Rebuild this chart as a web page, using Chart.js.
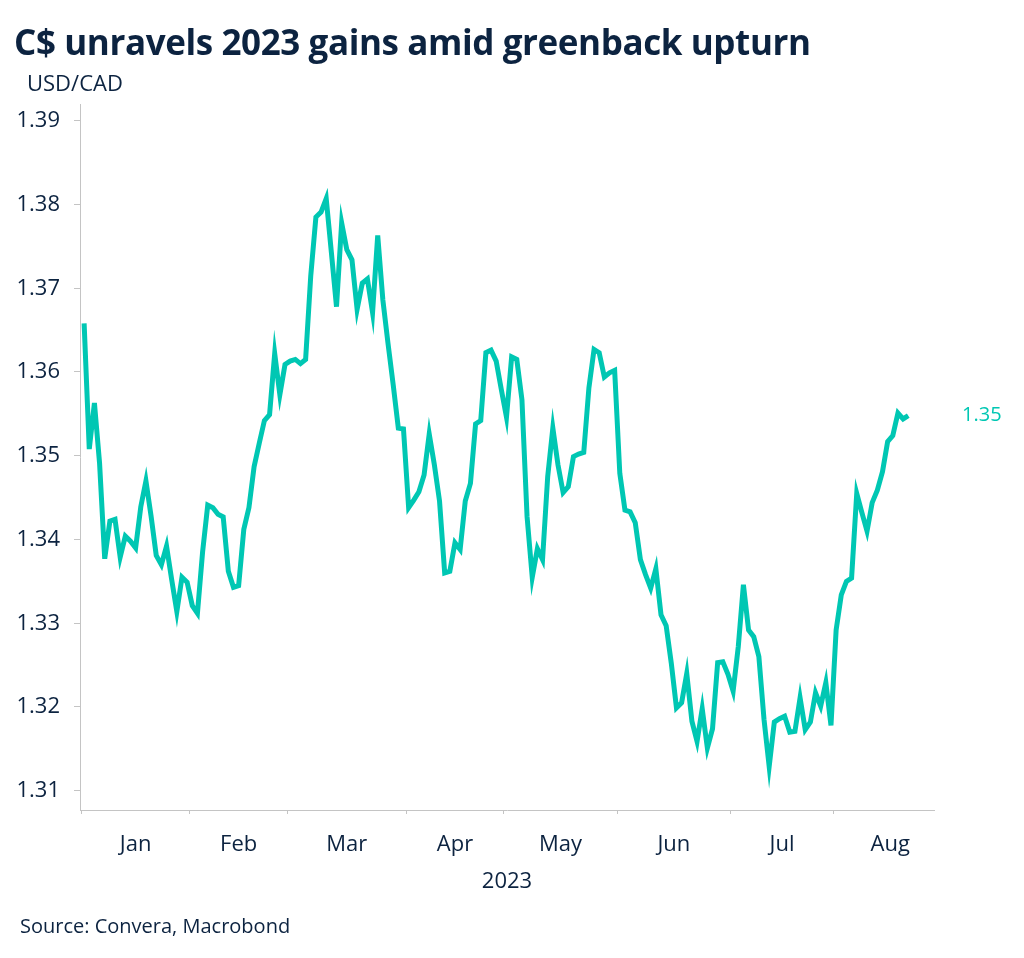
<!DOCTYPE html>
<html>
<head>
<meta charset="utf-8">
<script src="https://cdn.jsdelivr.net/npm/chart.js@4.4.0/dist/chart.umd.min.js"></script>
<style>
  body { margin: 0; background: #fff; }
  #wrap { position: relative; width: 1024px; height: 958px; font-family: "Open Sans", sans-serif; color: #0c2340; }
  #title { position: absolute; left: 14px; top: 24px; font-size: 35px; font-weight: 700; line-height: 1; letter-spacing: -0.4px; }
  #unit { position: absolute; left: 27px; top: 71px; font-size: 22px; line-height: 1; }
  #source { position: absolute; left: 20px; top: 916px; font-size: 20px; line-height: 1; }
  canvas { position: absolute; left: 0; top: 0; }
</style>
</head>
<body>
<div id="wrap">
  <canvas id="chart" width="1024" height="958"></canvas>
  <div id="title">C$ unravels 2023 gains amid greenback upturn</div>
  <div id="unit">USD/CAD</div>
  <div id="source">Source: Convera, Macrobond</div>
</div>
<script>
// USD/CAD daily close, 2023 (trading days)
var jan = [1.3658, 1.3508, 1.3563, 1.3491, 1.3377, 1.3422, 1.3424, 1.3379, 1.3404, 1.3398, 1.3390,
           1.3439, 1.3470, 1.3428, 1.3381, 1.3370, 1.3392, 1.3352, 1.3314, 1.3355, 1.3349];
var feb = [1.3321, 1.3312, 1.3385, 1.3441, 1.3438, 1.3430, 1.3427, 1.3362, 1.3343, 1.3345,
           1.3412, 1.3438, 1.3487, 1.3515, 1.3542, 1.3549, 1.3622, 1.3573, 1.3609];
var mar = [1.3613, 1.3615, 1.3610, 1.3615, 1.3715, 1.3785, 1.3791, 1.3807, 1.3743, 1.3678, 1.3778, 1.3746,
           1.3734, 1.3675, 1.3706, 1.3711, 1.3671, 1.3763, 1.3686, 1.3634, 1.3585, 1.3533, 1.3532];
var apr = [1.3438, 1.3447, 1.3457, 1.3477, 1.3526, 1.3489, 1.3446, 1.3360, 1.3362, 1.3396,
           1.3388, 1.3446, 1.3467, 1.3538, 1.3542, 1.3623, 1.3626, 1.3613, 1.3579];
var may = [1.3546, 1.3618, 1.3615, 1.3567, 1.3427, 1.3355, 1.3389, 1.3376, 1.3475, 1.3533, 1.3489,
           1.3456, 1.3463, 1.3499, 1.3502, 1.3504, 1.3581, 1.3627, 1.3623, 1.3594, 1.3599, 1.3602];
var jun = [1.3479, 1.3435, 1.3433, 1.3420, 1.3376, 1.3358, 1.3342, 1.3365, 1.3310, 1.3297, 1.3252,
           1.3199, 1.3205, 1.3240, 1.3183, 1.3159, 1.3198, 1.3151, 1.3174, 1.3253, 1.3254, 1.3239];
var jul = [1.3219, 1.3272, 1.3346, 1.3292, 1.3284, 1.3260, 1.3185, 1.3129, 1.3182, 1.3186,
           1.3189, 1.3170, 1.3171, 1.3211, 1.3173, 1.3182, 1.3217, 1.3201, 1.3229, 1.3178];
var aug = [1.3292, 1.3334, 1.3350, 1.3354, 1.3455, 1.3432, 1.3410, 1.3444, 1.3459, 1.3481,
           1.3517, 1.3524, 1.3551, 1.3544, 1.3548];

var monthLabels = ['Jan', 'Feb', 'Mar', 'Apr', 'May', 'Jun', 'Jul', 'Aug'];
var tradingDays = [21, 19, 23, 19, 22, 22, 20, 22]; // days in each month on the axis
var yTicks = [1.31, 1.32, 1.33, 1.34, 1.35, 1.36, 1.37, 1.38, 1.39];
var yearLabel = '2023';

var values = jan.concat(feb, mar, apr, may, jun, jul, aug);
var points = values.map(function (v, i) { return { x: i, y: v }; });
var lastLabel = values[values.length - 1].toFixed(2);

var lineColor = '#00c7b3';
var textColor = '#0c2340';
var axisGrey = '#c4c4c4';

// month boundaries get tick marks, month middles get the labels
var boundaries = [];
var centers = [];
var start = -0.5;
tradingDays.forEach(function (n) {
    boundaries.push(start);
    centers.push(start + n / 2);
    start += n;
});

Chart.defaults.font.family = '"Open Sans", sans-serif';
Chart.defaults.color = textColor;

var lastValuePlugin = {
    id: 'lastValue',
    afterDatasetsDraw: function (chart) {
        var meta = chart.getDatasetMeta(0);
        var pt = meta.data[meta.data.length - 1];
        var c = chart.ctx;
        c.save();
        c.font = '20px "Open Sans"';
        c.fillStyle = lineColor;
        c.textAlign = 'left';
        c.textBaseline = 'middle';
        c.fillText(lastLabel, chart.chartArea.right + 28, pt.y);
        c.restore();
    }
};

var ctx = document.getElementById('chart').getContext('2d');
var usdcadChart = new Chart(ctx, {
    type: 'line',
    data: {
        datasets: [{
            label: 'USD/CAD',
            data: points,
            borderColor: lineColor,
            borderWidth: 5,
            pointRadius: 0,
            tension: 0,
            fill: false
        }]
    },
    options: {
        responsive: false,
        animation: false,
        devicePixelRatio: 1,
        layout: { padding: { top: 104, right: 90, bottom: 0, left: 0 } },
        plugins: {
            legend: { display: false },
            tooltip: { enabled: false }
        },
        scales: {
            x: {
                type: 'linear',
                min: -0.8,
                max: 165,
                afterFit: function (s) { s.height = 148; },
                afterBuildTicks: function (s) {
                    s.ticks = boundaries.concat(centers)
                        .sort(function (a, b) { return a - b; })
                        .map(function (v) { return { value: v }; });
                },
                ticks: {
                    autoSkip: false,
                    maxRotation: 0,
                    minRotation: 0,
                    padding: 18,
                    font: { size: 22 },
                    color: textColor,
                    callback: function (value) {
                        var k = centers.indexOf(value);
                        return k >= 0 ? monthLabels[k] : '';
                    }
                },
                grid: {
                    drawOnChartArea: false,
                    drawTicks: true,
                    tickLength: 4,
                    color: function (c) {
                        return (c.tick && centers.indexOf(c.tick.value) >= 0) ? 'rgba(0,0,0,0)' : axisGrey;
                    }
                },
                border: { display: true, color: axisGrey },
                title: {
                    display: true,
                    text: yearLabel,
                    font: { size: 22 },
                    color: textColor,
                    padding: { top: 0, bottom: 63 }
                }
            },
            y: {
                min: 1.3077,
                max: 1.392,
                afterFit: function (s) { s.width = 80; },
                afterBuildTicks: function (s) {
                    s.ticks = yTicks.map(function (v) { return { value: v }; });
                },
                ticks: {
                    padding: 14,
                    font: { size: 22 },
                    color: textColor,
                    callback: function (value) { return value.toFixed(2); }
                },
                grid: {
                    drawOnChartArea: false,
                    drawTicks: true,
                    tickLength: 6,
                    color: axisGrey
                },
                border: { display: true, color: axisGrey }
            }
        }
    },
    plugins: [lastValuePlugin]
});
</script>
</body>
</html>
